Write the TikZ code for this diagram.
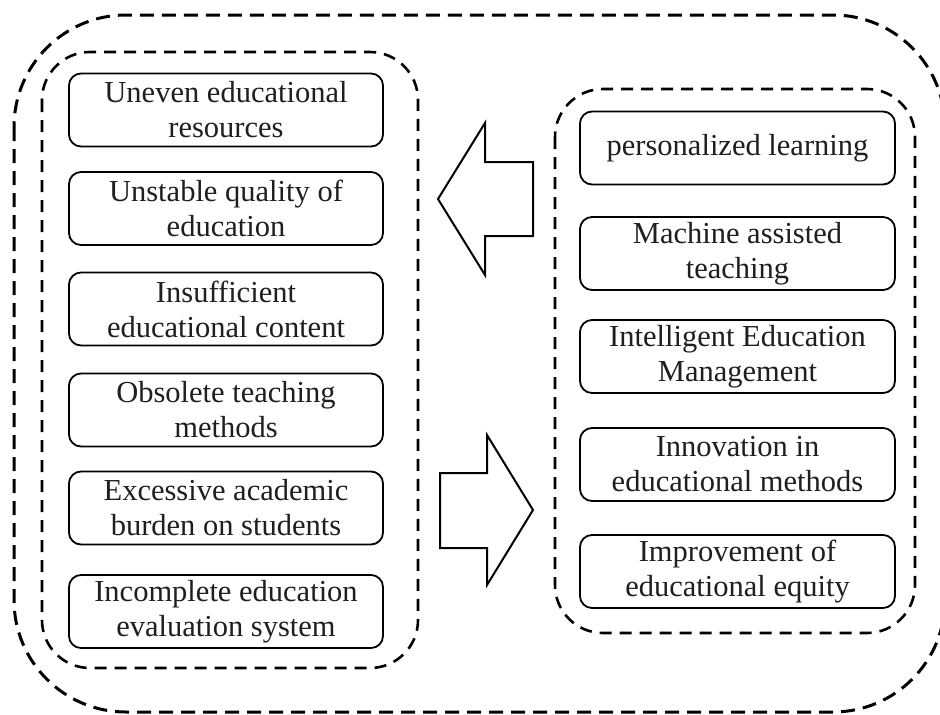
\documentclass[tikz,border=0pt]{standalone}
\usepackage{fontspec}
\setmainfont{Liberation Serif}
\begin{document}
\begin{tikzpicture}[x=1pt,y=-1pt,
  item/.style={draw, line width=1.8pt, rounded corners=12pt,
    minimum width=314pt, minimum height=73pt, align=center, inner sep=0pt,
    text=black!88, font=\fontsize{30.5}{35}\selectfont},
  group/.style={draw, line width=2.6pt, dash pattern=on 12pt off 8pt, rounded corners=48pt},
  outer/.style={draw, line width=3pt, dash pattern=on 14pt off 8pt, rounded corners=112pt},
  bigarrow/.style={draw, line width=2pt, line join=miter}]
\useasboundingbox (0,0) rectangle (940,715);
\clip (0,0) rectangle (940,715);
\fill[white] (0,0) rectangle (940,715);

% enclosing frame (its right side runs just past the page edge)
\draw[outer] (14,15) rectangle (945,712);

% the two groups
\draw[group] (42,52) rectangle (418,668);
\draw[group] (555,89) rectangle (915,633);

% problems
\node[item] (l1) at (226,110)   {Uneven educational\\resources};
\node[item] (l2) at (226,208.5) {Unstable quality of\\education};
\node[item] (l3) at (226,309)   {Insufficient\\educational content};
\node[item] (l4) at (226,410)   {Obsolete teaching\\methods};
\node[item] (l5) at (226,508)   {Excessive academic\\burden on students};
\node[item] (l6) at (226,611.5) {Incomplete education\\evaluation system};

% responses
\node[item, minimum width=315pt] (r1) at (737.5,148)   {personalized learning};
\node[item, minimum width=315pt] (r2) at (737.5,253.5) {Machine assisted\\teaching};
\node[item, minimum width=315pt] (r3) at (737.5,356.5) {Intelligent Education\\Management};
\node[item, minimum width=315pt] (r4) at (737.5,464.5) {Innovation in\\educational methods};
\node[item, minimum width=315pt] (r5) at (737.5,571.5) {Improvement of\\educational equity};

% block arrows between the groups
\draw[bigarrow] (533,162) -- (485,162) -- (485,123) -- (438,199)
  -- (485,275) -- (485,236) -- (533,236) -- cycle;
\draw[bigarrow] (440,473) -- (487,473) -- (487,435) -- (533,510)
  -- (487,585) -- (487,548) -- (440,548) -- cycle;
\end{tikzpicture}
\end{document}
